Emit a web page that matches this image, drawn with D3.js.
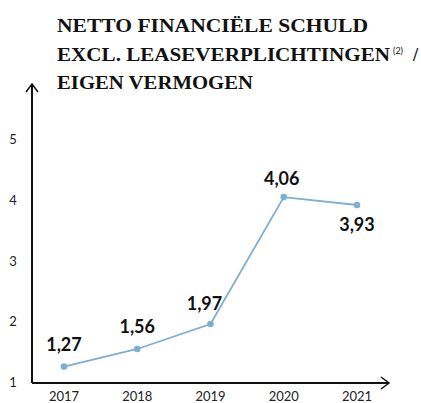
<!DOCTYPE html>
<html>
<head>
<meta charset="utf-8">
<script src="https://cdn.jsdelivr.net/npm/d3@7"></script>
<style>
  body { margin: 0; background: #fff; }
  svg { display: block; }
</style>
</head>
<body>
<div class="panel"></div>
<script>
// Data

const years = ["2017", "2018", "2019", "2020", "2021"];
const values = [1.27, 1.56, 1.97, 4.06, 3.93];
const labels = ["1,27", "1,56", "1,97", "4,06", "3,93"];
const yTicks = [1, 2, 3, 4, 5];
const titleLines = ["NETTO FINANCIËLE SCHULD", "EXCL. LEASEVERPLICHTINGEN", "EIGEN VERMOGEN"];

// Render chart

const params = { width: 421, height: 403 };

const svg = d3.select(".panel").append("svg")
    .attr("width", params.width)
    .attr("height", params.height);

const x = d3.scalePoint()
    .domain(years)
    .range([64, 357]);

const y = d3.scaleLinear()
    .domain([1, 5])
    .range([383, 140]);

// title
const titleWidths = [311, 333, 196];
const titleFont = t => t
    .attr("font-family", "Liberation Serif")
    .attr("font-weight", "bold")
    .attr("font-size", 18.5)
    .attr("fill", "#111");

svg.append("g")
    .selectAll("text")
    .data(titleLines)
    .join("text")
    .call(titleFont)
    .attr("x", 57)
    .attr("y", (d, i) => 32 + i * 28.6)
    .attr("textLength", (d, i) => titleWidths[i])
    .attr("lengthAdjust", "spacingAndGlyphs")
    .text(d => d);

svg.append("text")
    .attr("x", 393)
    .attr("y", 54)
    .attr("font-family", "Lato")
    .attr("font-size", 9)
    .attr("fill", "#111")
    .text("(2)");

svg.append("text")
    .call(titleFont)
    .attr("x", 413)
    .attr("y", 60.6)
    .text("/");

// axes
const axis = svg.append("g")
    .attr("stroke", "#111")
    .attr("stroke-width", 2)
    .attr("fill", "none");

axis.append("path").attr("d", `M32,${y(1)}V84`);
axis.append("path").attr("d", "M26,92L32,84L38,92").attr("stroke-width", 1.5);
axis.append("path").attr("d", `M32,${y(1)}H389`);
axis.append("path").attr("d", `M381,${y(1) - 6}L389,${y(1)}L381,${y(1) + 6}`).attr("stroke-width", 1.5);

svg.append("g")
    .selectAll("text")
    .data(yTicks)
    .join("text")
    .attr("x", 13)
    .attr("y", d => y(d) + 4)
    .attr("text-anchor", "middle")
    .attr("font-family", "Lato")
    .attr("font-size", 13)
    .attr("fill", "#222")
    .text(d => d);

svg.append("g")
    .selectAll("text")
    .data(years)
    .join("text")
    .attr("x", d => x(d))
    .attr("y", 401)
    .attr("text-anchor", "middle")
    .attr("font-family", "Lato")
    .attr("font-size", 13)
    .attr("fill", "#222")
    .text(d => d);

// line
const line = d3.line()
    .x((d, i) => x(years[i]))
    .y(d => y(d));

svg.append("path")
    .datum(values)
    .attr("d", line)
    .attr("fill", "none")
    .attr("stroke", "#7eaed0")
    .attr("stroke-width", 1.8);

svg.append("g")
    .selectAll("circle")
    .data(values)
    .join("circle")
    .attr("cx", (d, i) => x(years[i]))
    .attr("cy", d => y(d))
    .attr("r", 3.3)
    .attr("fill", "#7eaed0");

// value labels
const offsets = [[0, -16], [0, -16], [-6, -14], [-2, -12], [0, 26]];

svg.append("g")
    .selectAll("text")
    .data(values)
    .join("text")
    .attr("x", (d, i) => x(years[i]) + offsets[i][0])
    .attr("y", (d, i) => y(d) + offsets[i][1])
    .attr("text-anchor", "middle")
    .attr("font-family", "Lato")
    .attr("font-weight", "bold")
    .attr("font-size", 18)
    .attr("fill", "#111")
    .text((d, i) => labels[i]);
</script>
</body>
</html>
